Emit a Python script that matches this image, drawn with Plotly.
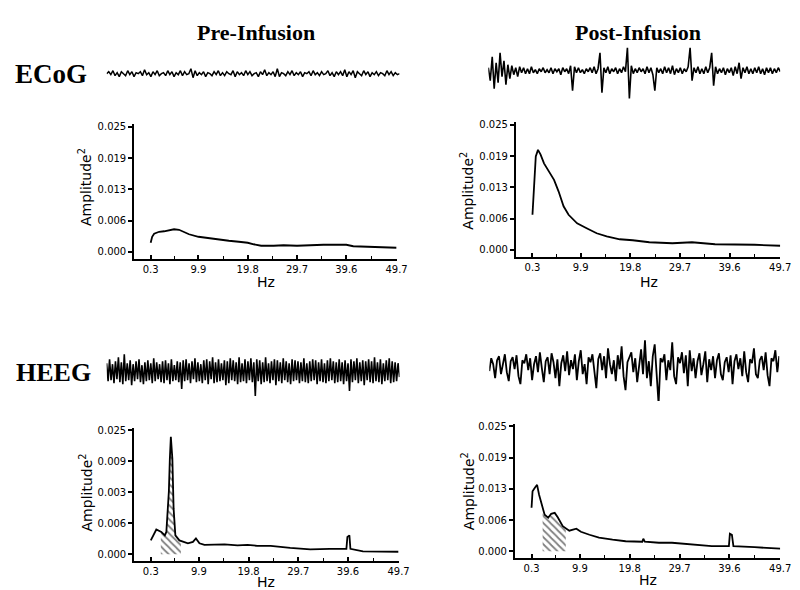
import numpy as np
import plotly.graph_objects as go

W, H = 800, 590

# ---------------- spectra (Hz, Amplitude^2) ----------------
hz_ecog_pre = [0.3, 0.6, 1.0, 2.0, 3.0, 4.0, 5.0, 6.0, 7.0, 8.0, 9.9, 12.0, 14.0, 16.0, 18.0, 19.8, 21.0,
               22.5, 25.0, 27.0, 29.7, 32.0, 35.0, 38.0, 39.6, 41.0, 44.0, 47.0, 49.7]
amp_ecog_pre = [0.0018, 0.0030, 0.0036, 0.0040, 0.0041, 0.0043, 0.0045, 0.0044, 0.0040, 0.0035, 0.0030, 0.0027,
                0.0024, 0.0022, 0.0020, 0.0018, 0.0015, 0.0012, 0.0012, 0.0013, 0.0012, 0.0013, 0.0014, 0.0014,
                0.0014, 0.0011, 0.0010, 0.0009, 0.0008]

hz_ecog_post = [0.3, 0.6, 0.96, 1.4, 1.9, 2.6, 3.6, 4.6, 5.5, 6.5, 7.5, 9.2, 11.1, 13.1, 15.1, 17.7, 20.3,
                23.6, 28.2, 32.1, 36.7, 40.0, 44.6, 49.7]
amp_ecog_post = [0.0070, 0.0120, 0.0187, 0.0200, 0.0191, 0.0173, 0.0157, 0.0140, 0.0117, 0.0087, 0.0070,
                 0.0053, 0.0043, 0.0033, 0.0027, 0.0021, 0.0019, 0.0015, 0.0013, 0.0015, 0.0011, 0.0011,
                 0.0010, 0.0008]

hz_heeg_pre = [0.3, 0.76, 1.4, 2.4, 3.1, 3.4, 3.9, 4.1, 4.3, 4.6, 4.85, 5.2, 6.0, 7.7, 8.7, 9.3, 10.0,
               11.0, 15.0, 17.6, 19.6, 21.5, 24.2, 28.1, 32.1, 36.0, 39.3, 39.5, 39.9, 40.1, 42.6, 49.7]
amp_heeg_pre = [0.0028, 0.0038, 0.0050, 0.0045, 0.0038, 0.0045, 0.0126, 0.0193, 0.0237, 0.0193, 0.0092,
                0.0038, 0.0028, 0.0022, 0.0025, 0.0032, 0.0022, 0.0019, 0.0020, 0.0018, 0.0019, 0.0017,
                0.0017, 0.0013, 0.0010, 0.0011, 0.0011, 0.0035, 0.0038, 0.0011, 0.0006, 0.0005]

hz_heeg_post = [0.3, 0.5, 0.96, 1.4, 1.8, 2.3, 2.9, 3.6, 4.2, 4.9, 5.5, 6.5, 7.8, 9.2, 10.1, 11.8, 13.7,
                16.4, 19.0, 22.3, 22.5, 22.8, 25.6, 28.2, 32.1, 36.1, 39.5, 39.7, 40.1, 40.4, 44.6, 49.7]
amp_heeg_post = [0.0087, 0.0120, 0.0127, 0.0133, 0.0113, 0.0093, 0.0073, 0.0067, 0.0075, 0.0077, 0.0068,
                 0.0050, 0.0041, 0.0045, 0.0039, 0.0033, 0.0027, 0.0023, 0.0020, 0.0019, 0.0025, 0.0019,
                 0.0017, 0.0017, 0.0013, 0.0010, 0.0010, 0.0035, 0.0033, 0.0010, 0.0008, 0.0005]

# hatched bands (Hz limits)
band_heeg_pre = [2.3, 6.3]
band_heeg_post = [2.5, 7.1]

# tick values / labels
y_tick_vals = [0.0, 0.00625, 0.0125, 0.01875, 0.025]
y_text_std = ["0.000", "0.006", "0.013", "0.019", "0.025"]
y_text_heeg_pre = ["0.000", "0.006", "0.003", "0.009", "0.025"]
x_tick_vals = [0.3, 9.9, 19.8, 29.7, 39.6, 49.7]
x_tick_text = ["0.3", "9.9", "19.8", "29.7", "39.6", "49.7"]
x_minor_vals = [5.1, 14.85, 24.75, 34.65, 44.65]

# ---------------- raw traces (arbitrary units, + = up) ----------------
ecog_pre_trace = [0, 2, -1, 3, -2, 1, -3, 2, 0, -2, 3, -1, 2, -3, 1, 0, 2, -2, 4, -1, 1, -3, 2, -1, 3, -2, 0, 1, -2, 3,
                  -1, 2, -3, 1, -1, 3, -2, 2, -1, 0, 5, -4, 3, -2, 1, -1, 2, -3, 1, 0,
                  -2, 2, -1, 3, -2, 1, -2, 2, 0, -1, 3, -3, 2, -1, 1, -2, 3, -1, 2, -2,
                  0, 1, -3, 2, -1, 4, -2, 1, -1, 2, -3, 5, -3, 1, 0, -2, 2, -1, 3, -2,
                  1, -1, 2, -3, 1, 0, 2, -2, 3, -1, 1, -2, 2, -1, 0, 3, -2, 1, -3, 2,
                  -1, 2, -2, 4, -3, 2, -1, 3, -4, 2, 0, -2, 3, -1, 2, -3, 1, -1, 2, -2,
                  1, 0, -2, 3, -1, 2, -2, 1, -1, 0]

ecog_post_trace = [3, -10, 14, -18, 8, -12, 18, -6, 10, -14,
                   6, -8, 5, -4, 3, -6, 4, -2, 3, -3,
                   2, -3, 4, -2, 1, -3, 2, -1, 3, -2,
                   1, -2, 3, -3, 2, -1, 2, -4, 3, -1,
                   2, -3, 5, -20, 4, -2, 3, -2, 1, -3,
                   2, -1, 3, -2, 4, -3, 2, 18, -22, 3,
                   -2, 4, -3, 2, -1, 3, -3, 2, -2, 4,
                   -1, 23, -28, 5, -3, 2, -2, 3, -1, 2,
                   -3, 4, -2, 3, -4, -20, 3, -2, 2, -3,
                   4, -2, 3, -3, 5, -4, 2, -2, 3, -3,
                   2, -1, 4, 23, -10, 3, -2, 4, -3, 2,
                   -3, 4, -2, 3, 18, -15, 4, -3, 2, -2,
                   3, -4, 2, -2, 3, -5, 4, -3, 8, -8,
                   3, -2, 4, -3, 2, -3, 3, -2, 4, -3,
                   2, -4, 3, -2, 3, -3, 2, -2, 3, -1]

heeg_pre_trace = [8, -10, 12, -9, 7, -12, 10, -8, 14, -11,
                  9, -13, 17, -10, 8, -9, 11, -14, 7, -10,
                  10, -8, 12, -11, 6, -13, 9, -10, 11, -9,
                  8, -12, 13, -10, 9, -8, 7, -11, 10, -12,
                  11, -9, 8, -13, 12, -10, 6, -9, 10, -11,
                  9, -18, 11, -10, 12, -9, 8, -12, 10, -8,
                  13, -11, 9, -10, 7, -12, 11, -9, 12, -13,
                  10, -8, 14, -12, 9, -11, 12, -10, 8, -9,
                  11, -14, 10, -12, 13, -9, 11, -10, 9, -13,
                  14, -11, 8, -10, 12, -12, 10, -9, 13, -11,
                  9, -25, 12, -10, 11, -13, 9, -11, 14, -10,
                  8, -12, 10, -9, 12, -14, 11, -10, 9, -12,
                  13, -9, 10, -11, 8, -13, 12, -10, 11, -9,
                  10, -12, 9, -10, 13, -11, 8, -12, 10, -10,
                  12, -9, 11, -13, 9, -10, 12, -11, 8, -12,
                  11, -10, 13, -9, 10, -12, 9, -11, 12, -10,
                  9, -13, 11, -10, 8, -20, 12, -11, 10, -9,
                  13, -12, 9, -10, 11, -14, 10, -9, 12, -11,
                  10, -12, 14, -10, 9, -11, 12, -13, 8, -10,
                  11, -9, 13, -12, 10, -11, 9, -10, 8, -6]

heeg_post_trace = [-5, 8, 2, -12, 6, 10, -8, 4, 12, -6,
                   -15, 5, 9, -3, 11, -10, -18, 6, 3, 12,
                   -4, 8, -14, 2, 10, -6, 14, -2, -16, 5,
                   9, -8, 13, 4, -12, 7, -20, 3, 11, -5,
                   15, -9, 6, -3, 12, -14, 5, 16, -8, 2,
                   -18, 9, 4, 12, -6, -22, 7, 13, -4, 10,
                   -12, 18, 2, -8, 6, -15, 11, -3, 20, -10,
                   -24, 4, 9, 14, -6, 8, -16, 3, 17, -8,
                   26, -12, 5, -20, 10, 22, -6, -38, 8, 4,
                   12, -14, 6, -4, 24, -10, -18, 9, 3, 14,
                   -7, 11, -20, 16, -5, 8, -12, 5, 13, -9,
                   2, 15, -16, 7, -4, 10, -12, 6, 13, -8,
                   -14, 4, 9, -6, 11, -18, 5, 12, -3, 8,
                   -10, 15, -6, -16, 7, 3, 18, -8, -12, 6,
                   10, -4, 14, -9, -20, 8, 5, 16, -6, 10]

# ---------------- layout helpers ----------------
def xdom(p0, p1):
    return [p0 / W, p1 / W]


def ydom(top, bottom):
    return [1 - bottom / H, 1 - top / H]


AX_FONT = dict(family="DejaVu Sans", size=10, color="black")
X_RANGE = [-3.0, 49.7]
Y_RANGE = [-0.0014, 0.0255]

fig = go.Figure()
layout = dict(width=W, height=H, margin=dict(l=0, r=0, t=0, b=0),
              paper_bgcolor="white", plot_bgcolor="white", showlegend=False)

# spectrum panels: (hz, amp, band, xdomain px, ydomain px, ytext)
panels = [
    (hz_ecog_pre, amp_ecog_pre, None, (128, 394), (114, 249), y_text_std),
    (hz_ecog_post, amp_ecog_post, None, (515, 783), (112, 247), y_text_std),
    (hz_heeg_pre, amp_heeg_pre, band_heeg_pre, (128, 396), (419, 553), y_text_heeg_pre),
    (hz_heeg_post, amp_heeg_post, band_heeg_post, (514, 783), (415, 550), y_text_std),
]

for i, (hz, amp, band, xd, yd, ytext) in enumerate(panels):
    n = i + 1
    xa = "x" if n == 1 else f"x{n}"
    ya = "y" if n == 1 else f"y{n}"
    if band is not None:
        hz_arr = np.array(hz)
        inside = hz_arr[(hz_arr > band[0]) & (hz_arr < band[1])]
        bx = np.concatenate([[band[0]], inside, [band[1]]])
        by = np.interp(bx, hz, amp)
        fig.add_trace(go.Scatter(x=bx, y=by, xaxis=xa, yaxis=ya, mode="lines",
                                 line=dict(width=0, color="black"), fill="tozeroy",
                                 fillcolor="rgba(0,0,0,0)",
                                 fillpattern=dict(shape="\\", fgcolor="black", bgcolor="white",
                                                  size=5, solidity=0.35),
                                 hoverinfo="skip"))
    fig.add_trace(go.Scatter(x=hz, y=amp, xaxis=xa, yaxis=ya, mode="lines",
                             line=dict(color="black", width=1.8), hoverinfo="skip"))
    layout["xaxis" if n == 1 else f"xaxis{n}"] = dict(
        domain=xdom(*xd), range=X_RANGE, anchor=ya, showgrid=False, zeroline=False,
        showline=True, linecolor="black", linewidth=2,
        tickvals=x_tick_vals, ticktext=x_tick_text, ticks="inside", ticklen=4,
        tickwidth=1.5, tickcolor="black", tickfont=AX_FONT,
        minor=dict(tickvals=x_minor_vals, ticks="inside", ticklen=3, tickwidth=1.2,
                   tickcolor="black", showgrid=False),
        fixedrange=True)
    layout["yaxis" if n == 1 else f"yaxis{n}"] = dict(
        domain=ydom(*yd), range=Y_RANGE, anchor=xa, showgrid=False, zeroline=False,
        showline=True, linecolor="black", linewidth=2,
        tickvals=y_tick_vals, ticktext=ytext, ticks="outside", ticklen=4,
        tickwidth=1.5, tickcolor="black", tickfont=AX_FONT, fixedrange=True)

# raw EEG traces: (data, xdomain px, (top, bottom) px, half-height units, line width)
traces = [
    (ecog_pre_trace, (100, 397), (43, 83), 20, 1.5),
    (ecog_post_trace, (487, 783), (30, 90), 30, 1.6),
    (heeg_pre_trace, (100, 397), (332, 392), 30, 1.6),
    (heeg_post_trace, (488, 782), (322, 392), 35, 1.8),
]
for j, (data, xd, yd, half, lw) in enumerate(traces):
    n = 5 + j
    xa, ya = f"x{n}", f"y{n}"
    idx = list(range(len(data)))
    fig.add_trace(go.Scatter(x=idx, y=data, xaxis=xa, yaxis=ya, mode="lines",
                             line=dict(color="black", width=lw), hoverinfo="skip"))
    layout[f"xaxis{n}"] = dict(domain=xdom(*xd), range=[0, len(data) - 1], anchor=ya,
                               visible=False, fixedrange=True)
    layout[f"yaxis{n}"] = dict(domain=ydom(*yd), range=[-half, half], anchor=xa,
                               visible=False, fixedrange=True)

fig.update_layout(**layout)


def ann(text, px, py, size, family="DejaVu Sans", bold=False, angle=0):
    fig.add_annotation(text=f"<b>{text}</b>" if bold else text, x=px / W, y=1 - py / H,
                       xref="paper", yref="paper", xanchor="center", yanchor="middle",
                       showarrow=False, textangle=angle,
                       font=dict(family=family, size=size, color="black"))


SERIF = "Liberation Serif"
ann("Pre-Infusion", 251, 22, 22, SERIF, True)
ann("Post-Infusion", 639, 22, 22, SERIF, True)
ann("ECoG", 44, 63, 27, SERIF, True)
ann("HEEG", 46, 363, 26, SERIF, True)

for (px, py) in [(262, 272), (650, 272), (262, 574), (649, 572)]:
    ann("Hz", px, py, 14)
for (px, py) in [(78, 177), (466, 181), (79, 484), (466, 483)]:
    ann("Amplitude<sup>2</sup>", px, py, 14, angle=-90)

fig.write_html("out.html")
